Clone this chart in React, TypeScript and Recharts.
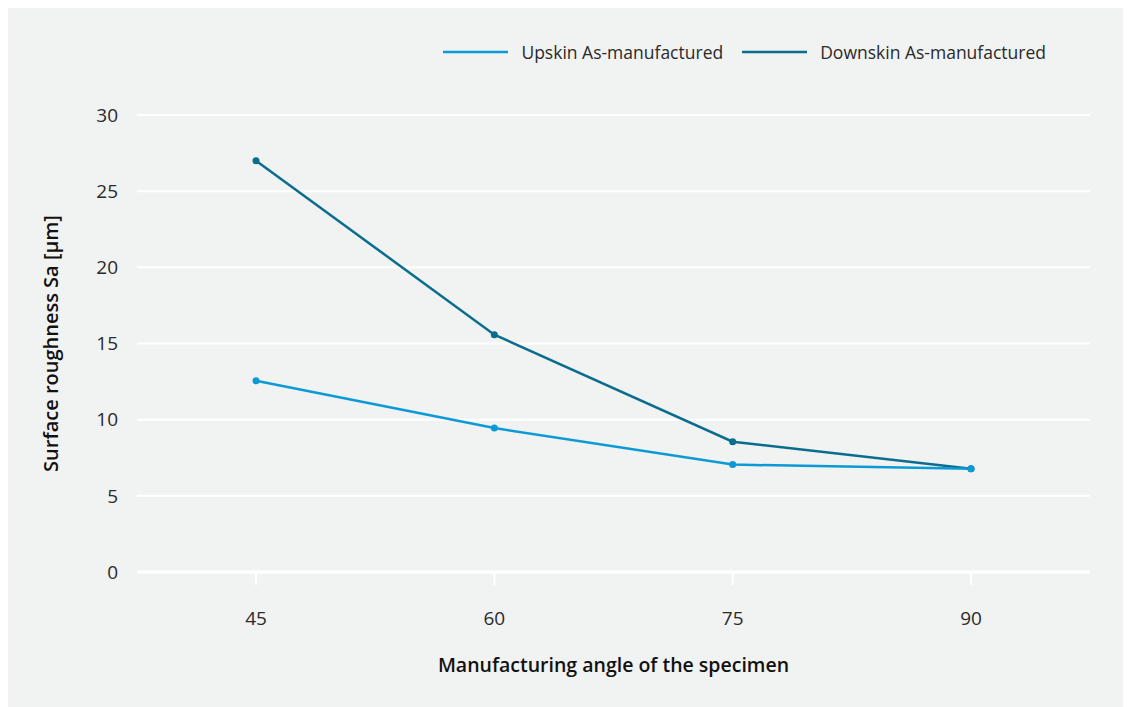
import { LineChart, Line, XAxis, YAxis, CartesianGrid, Legend } from 'recharts';

const angles = ['45', '60', '75', '90'];
const upskin = [12.55, 9.45, 7.05, 6.78];
const downskin = [27.0, 15.58, 8.55, 6.78];
const yTicks = [0, 5, 10, 15, 20, 25, 30];

const UP_COLOR = '#0b9ad6';
const DOWN_COLOR = '#0a6d8d';
const FONT = '"Open Sans", sans-serif';

const data = angles.map((angle, i) => ({
  angle,
  upskin: upskin[i],
  downskin: downskin[i],
}));

const legendItems = [
  { name: 'Upskin As-manufactured', color: UP_COLOR },
  { name: 'Downskin As-manufactured', color: DOWN_COLOR },
];

function ChartLegend() {
  return (
    <div style={{ display: 'flex', justifyContent: 'flex-end', gap: 19, fontFamily: FONT }}>
      {legendItems.map((item) => (
        <div key={item.name} style={{ display: 'flex', alignItems: 'center', gap: 13 }}>
          <svg width={65} height={4}>
            <line x1={0} y1={2} x2={65} y2={2} stroke={item.color} strokeWidth={2.5} />
          </svg>
          <span style={{ fontSize: 17.5, color: '#2a2a2a' }}>{item.name}</span>
        </div>
      ))}
    </div>
  );
}

export default function App() {
  return (
    <div style={{ width: 1123, height: 699, background: '#f1f2f2' }}>
      <LineChart width={1123} height={699} data={data} margin={{ top: 83, right: 41, left: 0, bottom: 0 }}>
        <CartesianGrid horizontal vertical={false} stroke="#ffffff" strokeWidth={2} />
        <Legend
          verticalAlign="top"
          align="right"
          content={() => <ChartLegend />}
          wrapperStyle={{ top: 32, right: 85, left: 'auto', width: 'auto' }}
        />
        <XAxis
          dataKey="angle"
          padding={{ left: 119, right: 119 }}
          axisLine={{ stroke: '#ffffff', strokeWidth: 3 }}
          tickLine={{ stroke: '#ffffff', strokeWidth: 2 }}
          tickSize={13}
          tickMargin={27}
          height={135}
          tick={{ fill: '#2a2a2a', fontSize: 19, fontFamily: FONT }}
          label={{
            value: 'Manufacturing angle of the specimen',
            position: 'insideBottom',
            offset: 35,
            style: { fill: '#111', fontSize: 19.5, fontWeight: 600, fontFamily: FONT },
          }}
        />
        <YAxis
          domain={[0, 30]}
          ticks={yTicks}
          axisLine={false}
          tickLine={false}
          tickSize={8}
          tickMargin={11}
          width={129}
          tick={{ fill: '#2a2a2a', fontSize: 19, fontFamily: FONT }}
          label={{
            value: 'Surface roughness Sa [µm]',
            angle: -90,
            position: 'insideLeft',
            dx: 38,
            style: { textAnchor: 'middle', fill: '#111', fontSize: 20, fontWeight: 600, fontFamily: FONT },
          }}
        />
        <Line
          dataKey="downskin"
          stroke={DOWN_COLOR}
          strokeWidth={2.5}
          dot={{ r: 3.5, fill: DOWN_COLOR, stroke: 'none' }}
          isAnimationActive={false}
        />
        <Line
          dataKey="upskin"
          stroke={UP_COLOR}
          strokeWidth={2.5}
          dot={{ r: 3.5, fill: UP_COLOR, stroke: 'none' }}
          isAnimationActive={false}
        />
      </LineChart>
    </div>
  );
}
